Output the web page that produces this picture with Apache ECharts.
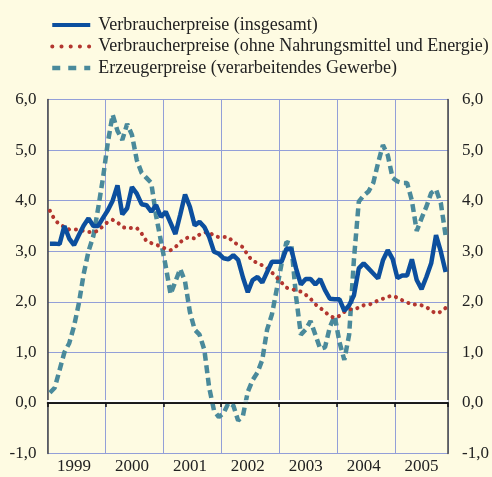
<!DOCTYPE html>
<html>
<head>
<meta charset="utf-8">
<script src="https://cdn.jsdelivr.net/npm/echarts@6.0.0/dist/echarts.min.js"></script>
<style>
html, body { margin: 0; padding: 0; background: #fefbe2; }
#chart { width: 492px; height: 477px; }
</style>
</head>
<body>
<div id="chart"></div>
<script>
// Jahre (Achsenbeschriftung), Monatswerte Jan 1999 - Nov 2005
var years = ['1999', '2000', '2001', '2002', '2003', '2004', '2005'];
var months = [];
for (var y = 0; y < years.length; y++) {
    for (var m = 1; m <= 12; m++) {
        if (months.length < 83) months.push(years[y] + '-' + (m < 10 ? '0' + m : m));
    }
}

var names = [
    'Verbraucherpreise (insgesamt)',
    'Verbraucherpreise (ohne Nahrungsmittel und Energie)',
    'Erzeugerpreise (verarbeitendes Gewerbe)'
];

var cpiTotal = [
    3.15, 3.15, 3.14, 3.50, 3.25, 3.12, 3.32, 3.51, 3.65, 3.50, 3.50, 3.66, 3.81,
    4.00, 4.30, 3.73, 3.85, 4.27, 4.14, 3.93, 3.91, 3.78, 3.91, 3.68, 3.78, 3.56,
    3.34, 3.72, 4.12, 3.88, 3.51, 3.58, 3.48, 3.28, 2.99, 2.95, 2.86, 2.84, 2.92, 2.83, 2.48,
    2.19, 2.43, 2.49, 2.38, 2.59, 2.79, 2.79, 2.79, 3.05, 3.05, 2.66, 2.34, 2.45, 2.45, 2.34, 2.45, 2.23, 2.06, 2.05, 2.05,
    1.82, 1.93, 2.13, 2.66, 2.76, 2.66, 2.56, 2.46, 2.82, 3.02, 2.85, 2.47, 2.52, 2.52, 2.84, 2.43, 2.25, 2.49, 2.76, 3.32, 2.99, 2.59
];

var cpiCore = [
    3.80, 3.62, 3.53, 3.48, 3.43, 3.43, 3.43, 3.40, 3.38, 3.38, 3.40, 3.50, 3.58,
    3.62, 3.57, 3.48, 3.45, 3.46, 3.46, 3.35, 3.20, 3.16, 3.13, 3.09, 3.05, 3.02,
    3.08, 3.18, 3.25, 3.28, 3.25, 3.33, 3.37, 3.38, 3.30, 3.28, 3.28, 3.28, 3.18, 3.13, 3.08,
    2.92, 2.81, 2.77, 2.72, 2.66, 2.58, 2.48, 2.38, 2.28, 2.25, 2.23, 2.20, 2.14, 2.06, 1.95, 1.88, 1.80, 1.72, 1.68, 1.72,
    1.80, 1.85, 1.86, 1.88, 1.93, 1.94, 1.97, 2.03, 2.06, 2.10, 2.12, 2.08, 2.03, 1.99, 1.94, 1.95, 1.93, 1.90, 1.82, 1.77, 1.80, 1.88
];

var ppi = [
    0.20, 0.30, 0.65, 1.00, 1.18, 1.52, 1.97, 2.55, 3.00, 3.30, 3.85, 4.45, 5.15,
    5.70, 5.38, 5.20, 5.52, 5.30, 4.80, 4.55, 4.45, 4.35, 3.70, 3.20, 2.70, 2.15,
    2.40, 2.65, 2.40, 1.80, 1.45, 1.35, 1.05, 0.30, -0.15, -0.28, -0.20, 0.00, -0.05, -0.35, -0.25,
    0.22, 0.45, 0.60, 0.85, 1.45, 1.75, 2.25, 2.75, 3.18, 3.15, 2.10, 1.35, 1.45, 1.62, 1.35, 1.07, 1.10, 1.50, 1.72, 1.20,
    0.85, 1.35, 2.85, 3.98, 4.10, 4.18, 4.35, 4.75, 5.10, 4.90, 4.45, 4.38, 4.35, 4.35, 4.00, 3.40, 3.65, 3.88, 4.15, 4.22, 3.95, 3.30
];

var font = 'Liberation Serif';
var gridColor = '#939fd8';

function yearStart(idx) { return idx % 12 === 0; }
function yearMid(idx) { return idx % 12 === 5; }
function komma(v) { return v.toFixed(1).replace('.', ','); }

// Legendensymbol ohne Punkt in der Mitte
var noDot = { opacity: 0, borderWidth: 0 };

var chart = echarts.init(document.getElementById('chart'));
var option = {
    backgroundColor: '#fefbe2',
    animation: false,
    textStyle: { fontFamily: font },
    legend: {
        orient: 'vertical',
        left: 45,
        top: 10,
        itemWidth: 38,
        itemHeight: 10,
        itemGap: 1.5,
        textStyle: { fontFamily: font, fontSize: 18, color: '#222', lineHeight: 20, padding: [0, 0, 0, 3] },
        data: [
            { name: names[0], itemStyle: noDot, lineStyle: { width: 4 } },
            { name: names[1], itemStyle: noDot, lineStyle: { width: 4, type: [0.1, 9.1], cap: 'round' } },
            { name: names[2], itemStyle: noDot, lineStyle: { width: 4.5, type: [8, 8] } }
        ]
    },
    grid: { left: 47.5, right: 39, top: 99.5, bottom: 23.5 },
    xAxis: {
        type: 'category',
        data: months,
        boundaryGap: true,
        axisLine: { lineStyle: { color: '#111', width: 1.5, shadowColor: '#fff', shadowOffsetY: -2 } },
        axisTick: { show: true, interval: yearStart, length: 4, lineStyle: { color: '#111', width: 1.5 } },
        axisLabel: {
            interval: yearMid,
            margin: 5,
            fontFamily: font,
            fontSize: 17,
            color: '#222',
            formatter: function (v) { return v.slice(0, 4); }
        },
        splitLine: { show: true, interval: yearStart, lineStyle: { color: gridColor, width: 1 } }
    },
    yAxis: [{
        type: 'value',
        min: -1,
        max: 6,
        interval: 1,
        axisLine: { show: true, lineStyle: { color: '#444', width: 1.5 } },
        axisTick: { show: false },
        axisLabel: { margin: 11, fontFamily: font, fontSize: 17, color: '#222', formatter: komma },
        splitLine: { show: true, lineStyle: { color: gridColor, width: 1 } }
    }, {
        type: 'value',
        position: 'right',
        min: -1,
        max: 6,
        interval: 1,
        axisLine: { show: true, lineStyle: { color: '#444', width: 1.5 } },
        axisTick: { show: false },
        axisLabel: { margin: 14, fontFamily: font, fontSize: 17, color: '#222', formatter: komma },
        splitLine: { show: false }
    }],
    series: [{
        name: names[0],
        type: 'line',
        data: cpiTotal,
        symbol: 'none',
        z: 5,
        itemStyle: { color: '#0c4f9e' },
        lineStyle: { color: '#0c4f9e', width: 4.5 }
    }, {
        name: names[1],
        type: 'line',
        data: cpiCore,
        symbol: 'none',
        z: 4,
        itemStyle: { color: '#b3362f' },
        lineStyle: { color: '#b3362f', width: 4, type: [0.1, 6.8], cap: 'round' }
    }, {
        name: names[2],
        type: 'line',
        data: ppi,
        symbol: 'none',
        z: 3,
        itemStyle: { color: '#4a8a9b' },
        lineStyle: { color: '#4a8a9b', width: 4.5, type: [8, 4.5] },
        markLine: {
            silent: true,
            symbol: ['none', 'none'],
            label: { show: false },
            lineStyle: { color: '#111', width: 1.5, type: 'solid', shadowColor: '#fff', shadowOffsetY: -2 },
            data: [{ yAxis: 0 }]
        }
    }]
};
chart.setOption(option);
</script>
</body>
</html>
